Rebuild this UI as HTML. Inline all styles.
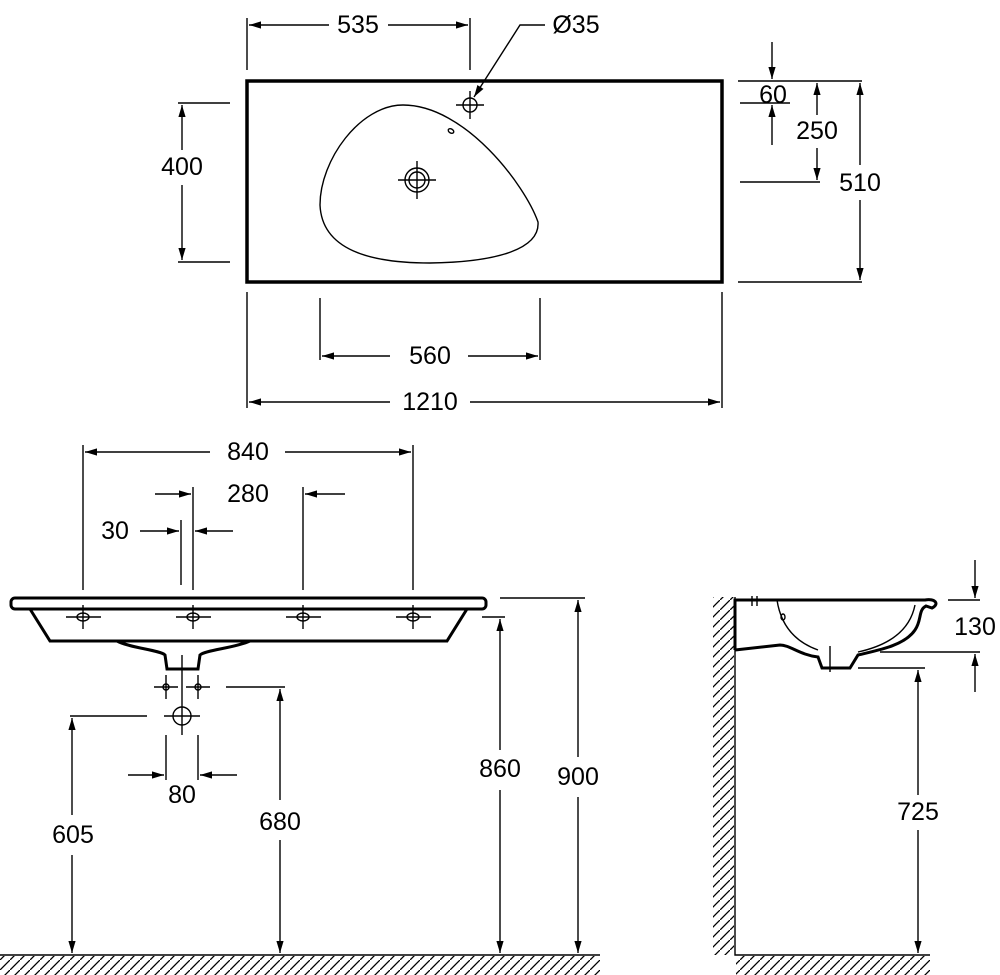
<!DOCTYPE html>
<html><head><meta charset="utf-8"><style>
html,body{margin:0;padding:0;background:#fff}
svg{display:block}
text{font-family:"Liberation Sans",sans-serif;font-size:25px;fill:#000}
</style></head><body>
<svg width="1000" height="975" viewBox="0 0 1000 975" xmlns="http://www.w3.org/2000/svg">
<defs>
<marker id="a" viewBox="0 0 10 10" refX="10" refY="5" markerWidth="12" markerHeight="12" markerUnits="userSpaceOnUse" orient="auto-start-reverse"><path d="M0,2 L10,5 L0,8 Z" fill="#000"/></marker>
<pattern id="h" width="10" height="10" patternUnits="userSpaceOnUse"><path d="M-2,12 L12,-2" stroke="#000" stroke-width="1.3"/></pattern>
</defs>
<g stroke="#000" fill="none" stroke-width="1.4">
<!-- TOP VIEW -->
<rect x="247" y="81" width="475" height="201" stroke-width="3.5"/>
<path d="M403,105 C360,105 320,160 320,205 C322,250 370,263 430,263 C500,262 540,248 538,222 C525,185 465,105 403,105 Z"/>
<circle cx="417" cy="180" r="12"/><circle cx="417" cy="180" r="8"/>
<path d="M398,180h38M417,161v38"/>
<circle cx="470" cy="105" r="7"/><path d="M456,105h28M470,91v28"/>
<ellipse cx="451" cy="131" rx="3" ry="2" transform="rotate(30 451 131)"/>
<!-- 535 -->
<path d="M247,18v52M470,18v52"/>
<path d="M329,25H249" marker-end="url(#a)"/><path d="M388,25H468" marker-end="url(#a)"/>
<!-- Ø35 leader -->
<path d="M545,25h-25L474,97" marker-end="url(#a)"/>
<!-- 400 -->
<path d="M178,103h52M178,262h52"/>
<path d="M182,150V105" marker-end="url(#a)"/><path d="M182,185V260" marker-end="url(#a)"/>
<!-- right dims -->
<path d="M738,81h124M740,103h50M740,182h80M738,282h124"/>
<path d="M772,42V79" marker-end="url(#a)"/><path d="M772,145V105" marker-end="url(#a)"/>
<path d="M817,115V83" marker-end="url(#a)"/><path d="M817,148V180" marker-end="url(#a)"/>
<path d="M860,165V83" marker-end="url(#a)"/><path d="M860,200V280" marker-end="url(#a)"/>
<!-- 560 -->
<path d="M320,298v62M540,298v62"/>
<path d="M390,356H322" marker-end="url(#a)"/><path d="M468,356H538" marker-end="url(#a)"/>
<!-- 1210 -->
<path d="M247,292v116M722,292v116"/>
<path d="M390,402H249" marker-end="url(#a)"/><path d="M470,402H720" marker-end="url(#a)"/>

<!-- FRONT VIEW -->
<path d="M83,445v145M413,445v145"/>
<path d="M210,452H85" marker-end="url(#a)"/><path d="M285,452H411" marker-end="url(#a)"/>
<path d="M193,487v103M303,487v103M181,520v65"/>
<path d="M155,494H191" marker-end="url(#a)"/><path d="M345,494H305" marker-end="url(#a)"/>
<path d="M140,531H179" marker-end="url(#a)"/><path d="M233,531H195" marker-end="url(#a)"/>
<rect x="11" y="598" width="475" height="11" rx="4" stroke-width="3"/>
<path d="M30,609 L50,641 H447 L467,609" stroke-width="3"/>
<path d="M117,641 C130,648 160,650 165,655 L167,669 H198 L200,655 C205,650 235,648 250,641" stroke-width="3"/>
<g>
<ellipse cx="83" cy="617" rx="6" ry="4"/><path d="M66,617h35M83,605v24"/>
<ellipse cx="193" cy="617" rx="6" ry="4"/><path d="M176,617h35M193,605v24"/>
<ellipse cx="303" cy="617" rx="6" ry="4"/><path d="M286,617h35M303,605v24"/>
<ellipse cx="413" cy="617" rx="6" ry="4"/><path d="M396,617h35M413,605v24"/>
</g>
<path d="M182,655v80"/>
<circle cx="166" cy="687" r="3"/><path d="M154,687h24M166,675v24"/>
<circle cx="198" cy="687" r="3"/><path d="M186,687h24M198,675v24"/>
<circle cx="182" cy="716" r="9"/><path d="M164,716h36"/>
<path d="M226,687h59M70,716h77"/>
<path d="M166,735v45M198,735v45"/>
<path d="M128,775H164" marker-end="url(#a)"/><path d="M237,775H200" marker-end="url(#a)"/>
<path d="M72,815V718" marker-end="url(#a)"/><path d="M72,855V953" marker-end="url(#a)"/>
<path d="M280,800V689" marker-end="url(#a)"/><path d="M280,840V953" marker-end="url(#a)"/>
<path d="M482,617h23M500,598h85"/>
<path d="M500,750V619" marker-end="url(#a)"/><path d="M500,790V953" marker-end="url(#a)"/>
<path d="M578,757V600" marker-end="url(#a)"/><path d="M578,797V953" marker-end="url(#a)"/>
<path d="M0,955H600"/>

<!-- SIDE VIEW -->
<path d="M735,597V955H930"/>
<path d="M735,650V600H925 C935,598 940,604 932,608 L926,606 C918,610 922,620 915,630 C905,645 880,650 858,655 L850,668 H822 L818,657 C800,655 790,645 780,645 L735,650" stroke-width="3"/>
<path d="M777,600 C780,620 790,640 818,650 M858,652 C890,645 910,630 915,605"/>
<path d="M752,596v10M757,596v10M830,646v26"/>
<ellipse cx="783" cy="617" rx="2" ry="3"/>
<path d="M948,600h32M880,652h100M858,668h67"/>
<path d="M975,560V598" marker-end="url(#a)"/><path d="M975,692V654" marker-end="url(#a)"/>
<path d="M918,795V670" marker-end="url(#a)"/><path d="M918,830V953" marker-end="url(#a)"/>
</g>
<rect x="0" y="956" width="600" height="19" fill="url(#h)"/>
<rect x="736" y="956" width="194" height="19" fill="url(#h)"/>
<rect x="713" y="597" width="21" height="358" fill="url(#h)"/>

<g text-anchor="middle" dominant-baseline="central">
<rect x="330" y="10" width="56" height="30" fill="#fff"/><text x="358" y="25">535</text>
<text x="576" y="25">Ø35</text>
<rect x="155" y="152" width="54" height="30" fill="#fff"/><text x="182" y="167">400</text>
<text x="773" y="95">60</text>
<rect x="790" y="116" width="54" height="30" fill="#fff"/><text x="817" y="131">250</text>
<rect x="833" y="168" width="54" height="30" fill="#fff"/><text x="860" y="183">510</text>
<text x="430" y="356">560</text>
<text x="430" y="402">1210</text>
<text x="248" y="452">840</text>
<text x="248" y="494">280</text>
<text x="115" y="531">30</text>
<text x="182" y="795">80</text>
<text x="73" y="835">605</text>
<text x="280" y="822">680</text>
<text x="500" y="769">860</text>
<text x="578" y="777">900</text>
<text x="975" y="627">130</text>
<text x="918" y="812">725</text>
</g>
</svg>
</body></html>
